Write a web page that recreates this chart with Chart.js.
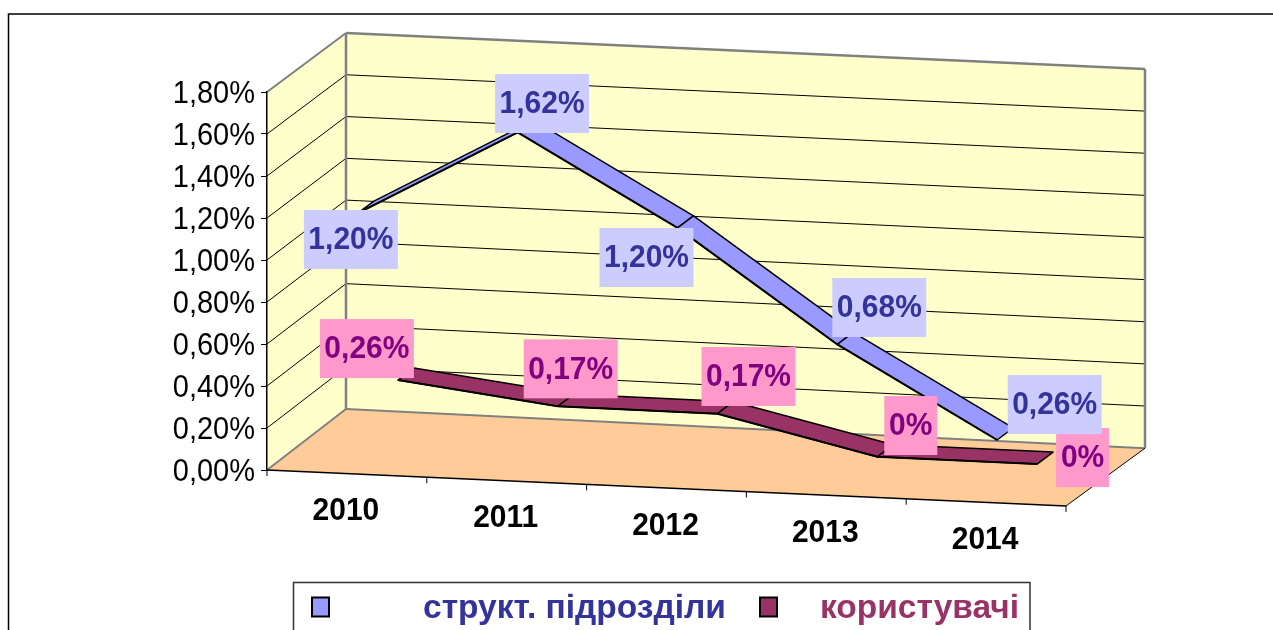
<!DOCTYPE html>
<html>
<head>
<meta charset="utf-8">
<title>Chart</title>
<script src="https://cdn.jsdelivr.net/npm/chart.js@4"></script>
<style>
  html, body { margin: 0; padding: 0; background: #fff; overflow: hidden; }
  canvas { display: block; }
</style>
</head>
<body>
<canvas id="chart" width="1273" height="630"></canvas>
<script>
// Chart data
const years = ['2010', '2011', '2012', '2013', '2014'];
const structUnits = [1.20, 1.62, 1.20, 0.68, 0.26];
const users = [0.26, 0.17, 0.17, 0, 0];
const seriesNames = ['структ. підрозділи', 'користувачі'];

// Data label text, as printed on the chart
const structLabels = ['1,20%', '1,62%', '1,20%', '0,68%', '0,26%'];
const userLabels = ['0,26%', '0,17%', '0,17%', '0%', '0%'];

// Hand placed label boxes, relative to the point (the original labels were dragged around)
const structLabelOffsets = [[-7, 26.3], [24.4, -28.8], [-31, 29.6], [42, -36.9], [57.6, -35.4]];
const userLabelOffsets = [[-31, -31.5], [13, -37.5], [31, -37.2], [33.5, -31.2], [45.5, -6.5]];

// Fake 3D setup: the floor leans down to the right, depth goes up and to the right
const SLOPE = 0.046;
const WALL_DEPTH = { x: 79, y: -61 };
const RIBBON_DEPTH = { x: 16, y: -12 };
const SERIES_SHIFT = [{ x: 11, y: -8.5 }, { x: 51, y: -39 }];

// The source picture is a little stretched vertically
const TEXT_STRETCH = 1.05;

const FONT = '"Liberation Sans", Arial, sans-serif';
Chart.defaults.font.family = FONT;

function pointOnFloor(chart, px, py, index) {
  const shift = SERIES_SHIFT[index];
  return {
    x: px + shift.x,
    y: py + SLOPE * (px - chart.chartArea.left) + shift.y
  };
}

// Front plane and back plane of the box, given a plain pixel from the scales
function boxPoint(chart, px, py, depth) {
  const area = chart.chartArea;
  const up = (area.bottom - py) / (area.bottom - area.top);
  const slope = 0.045 + 0.004 * depth * (1 - up);
  return {
    x: px + WALL_DEPTH.x * depth,
    y: py + slope * (px - area.left) + (WALL_DEPTH.y + 2 * up) * depth
  };
}

function polygon(ctx, points, fill, stroke, width) {
  ctx.beginPath();
  points.forEach((p, i) => (i ? ctx.lineTo(p.x, p.y) : ctx.moveTo(p.x, p.y)));
  ctx.closePath();
  if (fill) {
    ctx.fillStyle = fill;
    ctx.fill();
  }
  if (stroke) {
    ctx.strokeStyle = stroke;
    ctx.lineWidth = width;
    ctx.stroke();
  }
}

function segment(ctx, a, b, color, width) {
  ctx.beginPath();
  ctx.moveTo(a.x, a.y);
  ctx.lineTo(b.x, b.y);
  ctx.strokeStyle = color;
  ctx.lineWidth = width;
  ctx.stroke();
}

function tallText(ctx, text, x, y) {
  ctx.save();
  ctx.translate(x, y);
  ctx.scale(1, TEXT_STRETCH);
  ctx.fillText(text, 0, 0);
  ctx.restore();
}

// Walls, floor, gridlines and slanted category axis
const boxPlugin = {
  id: 'box',
  beforeDraw(chart) {
    const { ctx, chartArea: area, scales } = chart;
    const yScale = scales.y;
    const l = area.left, r = area.right, t = area.top, b = area.bottom;
    const p = (x, y, d) => boxPoint(chart, x, y, d);

    ctx.save();
    ctx.fillStyle = '#fff';
    ctx.fillRect(0, 0, chart.width, chart.height);

    // frame of the pasted picture, cut off by the page
    ctx.strokeStyle = '#000';
    ctx.lineWidth = 1.5;
    ctx.beginPath();
    ctx.moveTo(8.5, chart.height);
    ctx.lineTo(8.5, 14);
    ctx.lineTo(chart.width, 14);
    ctx.stroke();

    polygon(ctx, [p(l, t, 0), p(l, t, 1), p(l, b, 1), p(l, b, 0)], '#FFFFCC');
    polygon(ctx, [p(l, t, 1), p(r, t, 1), p(r, b, 1), p(l, b, 1)], '#FFFFCC');
    polygon(ctx, [p(l, b, 0), p(l, b, 1), p(r, b, 1), p(r, b, 0)], '#FFCC99');

    // gridlines on the side wall and on the back wall
    yScale.ticks.forEach((tick, i) => {
      if (i === 0 || i === yScale.ticks.length - 1) return;
      const py = yScale.getPixelForTick(i);
      segment(ctx, p(l, py, 0), p(l, py, 1), '#000', 1);
      segment(ctx, p(l, py, 1), p(r, py, 1), '#000', 1);
    });

    // grey wall edges
    segment(ctx, p(l, t, 0), p(l, t, 1), '#808080', 2);
    segment(ctx, p(l, t, 1), p(r, t, 1), '#808080', 2.5);
    segment(ctx, p(l, t, 1), p(l, b, 1), '#808080', 2.5);
    segment(ctx, p(r, t, 1), p(r, b, 1), '#808080', 2.5);
    segment(ctx, p(l, b, 0), p(l, b, 1), '#808080', 2);
    segment(ctx, p(l, b, 1), p(r, b, 1), '#808080', 2);

    // front and right edges of the floor
    segment(ctx, p(l, b, 0), p(r, b, 0), '#000', 1.5);
    segment(ctx, p(r, b, 0), p(r, b, 1), '#000', 1);

    // category ticks and labels follow the slanted floor edge
    const band = (r - l) / years.length;
    for (let i = 0; i <= years.length; i++) {
      const start = p(l + band * i, b, 0);
      segment(ctx, start, { x: start.x, y: start.y + 6 }, '#000', 1);
    }
    ctx.fillStyle = '#000';
    ctx.font = 'bold 30px ' + FONT;
    ctx.textAlign = 'center';
    ctx.textBaseline = 'middle';
    years.forEach((year, i) => {
      const px = scales.x.getPixelForValue(i);
      tallText(ctx, year, px - 1, p(px, b, 0).y + 38);
    });

    // value axis labels, a touch below their ticks like the source
    ctx.font = '29px ' + FONT;
    ctx.textAlign = 'right';
    yScale.ticks.forEach((tick, i) => {
      tallText(ctx, tick.label, l - 12, yScale.getPixelForTick(i) + 3);
    });
    ctx.restore();
  },

  // Each line sits at its own depth, so draw the ribbon first and shear the line itself
  beforeDatasetDraw(chart, args) {
    const { ctx } = chart;
    const index = args.index;
    const dataset = chart.data.datasets[index];
    const points = args.meta.data.map(el => pointOnFloor(chart, el.x, el.y, index));

    ctx.save();
    ctx.lineJoin = 'round';
    for (let i = 0; i < points.length - 1; i++) {
      const a = points[i], c = points[i + 1];
      polygon(ctx, [
        a,
        c,
        { x: c.x + RIBBON_DEPTH.x, y: c.y + RIBBON_DEPTH.y },
        { x: a.x + RIBBON_DEPTH.x, y: a.y + RIBBON_DEPTH.y }
      ], dataset.backgroundColor, '#000', 1.5);
    }
    const shift = SERIES_SHIFT[index];
    ctx.transform(1, SLOPE, 0, 1, shift.x, shift.y - SLOPE * chart.chartArea.left);
  },
  afterDatasetDraw(chart) {
    chart.ctx.restore();
  },

  afterDraw(chart) {
    const { ctx } = chart;
    ctx.save();
    ctx.textAlign = 'center';
    ctx.textBaseline = 'middle';
    ctx.font = 'bold 30px ' + FONT;

    // users' labels go first, the blue ones overlap them at 2014
    [1, 0].forEach(index => {
      const texts = index === 0 ? structLabels : userLabels;
      const offsets = index === 0 ? structLabelOffsets : userLabelOffsets;
      const meta = chart.getDatasetMeta(index);
      meta.data.forEach((el, i) => {
        const pt = pointOnFloor(chart, el.x, el.y, index);
        const cx = pt.x + offsets[i][0];
        const cy = pt.y + offsets[i][1];
        const w = texts[i].length > 2 ? 94 : 53;
        ctx.fillStyle = index === 0 ? '#CCCCFF' : '#FF99CC';
        ctx.fillRect(cx - w / 2, cy - 29.5, w, 59);
        ctx.fillStyle = index === 0 ? '#333399' : '#800080';
        tallText(ctx, texts[i], cx, cy + 1);
      });
    });

    // legend box, cut off by the bottom of the page
    ctx.fillStyle = '#fff';
    ctx.fillRect(293, 582, 737, 48);
    ctx.strokeStyle = '#333';
    ctx.lineWidth = 1.5;
    ctx.beginPath();
    ctx.moveTo(293.5, 630);
    ctx.lineTo(293.5, 582.5);
    ctx.lineTo(1030, 582.5);
    ctx.lineTo(1030, 630);
    ctx.stroke();

    ctx.textAlign = 'left';
    ctx.textBaseline = 'alphabetic';
    ctx.font = 'bold 33.5px ' + FONT;
    const legendColors = ['#333399', '#993366'];
    const legendBoxes = [312, 760];
    const legendTexts = [423, 820];
    seriesNames.forEach((name, i) => {
      ctx.fillStyle = chart.data.datasets[i].backgroundColor;
      ctx.fillRect(legendBoxes[i], 597.5, 17, 19);
      ctx.strokeStyle = '#000';
      ctx.lineWidth = 2;
      ctx.strokeRect(legendBoxes[i], 597.5, 17, 19);
      ctx.fillStyle = legendColors[i];
      ctx.fillText(name, legendTexts[i], 618);
    });
    ctx.restore();
  }
};

new Chart(document.getElementById('chart'), {
  type: 'line',
  data: {
    labels: years,
    datasets: [
      {
        label: seriesNames[0],
        data: structUnits,
        backgroundColor: '#9999FF',
        borderColor: '#000',
        borderWidth: 2,
        pointRadius: 0,
        tension: 0,
        clip: false
      },
      {
        label: seriesNames[1],
        data: users,
        backgroundColor: '#993366',
        borderColor: '#000',
        borderWidth: 2,
        pointRadius: 0,
        tension: 0,
        clip: false
      }
    ]
  },
  options: {
    responsive: false,
    animation: false,
    layout: { padding: { top: 92, right: 207, left: 0, bottom: 0 } },
    plugins: {
      legend: { display: false },
      title: { display: false },
      tooltip: { enabled: false }
    },
    scales: {
      x: {
        type: 'category',
        offset: true,
        grid: { display: false },
        border: { display: false },
        ticks: { display: false },
        afterFit(scale) { scale.height = 160; }
      },
      y: {
        min: 0,
        max: 1.8,
        afterFit(scale) { scale.width = 267; },
        grid: { drawOnChartArea: false, color: '#000', tickLength: 6 },
        border: { color: '#000', width: 1.5 },
        ticks: {
          display: false,
          stepSize: 0.2,
          callback: value => value.toFixed(2).replace('.', ',') + '%'
        }
      }
    }
  },
  plugins: [boxPlugin]
});
</script>
</body>
</html>
